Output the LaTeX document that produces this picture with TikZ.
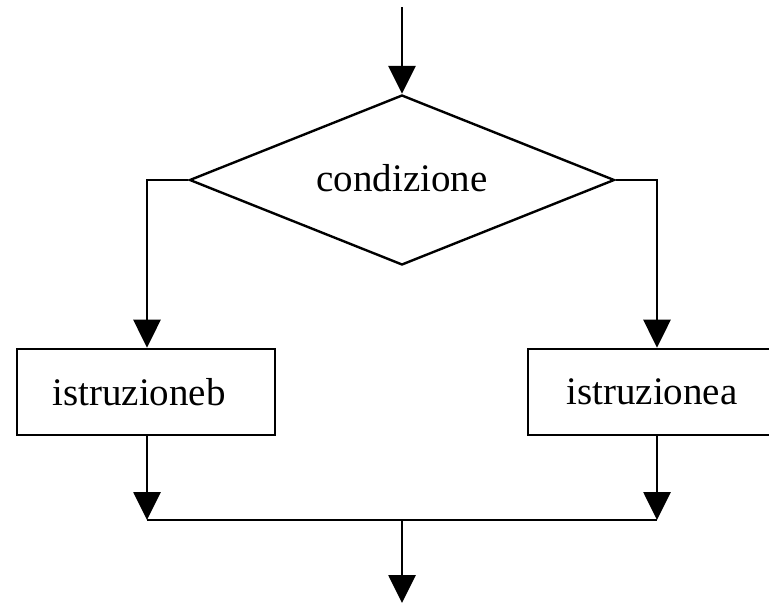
\documentclass[tikz,border=0pt]{standalone}
\usepackage{fontspec}
\setmainfont{Liberation Serif}
\usetikzlibrary{shapes.geometric,arrows.meta}
\begin{document}
\begin{tikzpicture}[x=1pt,y=-1pt,
  flow/.style={line width=2.8pt, draw=black},
  tip/.style={-{Triangle[width=27pt,length=28pt]}},
  label/.style={font=\fontsize{39}{39}\selectfont, inner sep=0pt},
  stmt/.style={draw, line width=2.6pt, minimum width=258pt, minimum height=86pt, label},
  test/.style={diamond, draw, line width=2.4pt, aspect=2.5, minimum width=425pt, minimum height=170pt, inner sep=0pt, font=\fontsize{39}{39}\selectfont}]
  \useasboundingbox (0,0) rectangle (769,605);
  \clip (0,0) rectangle (769,605);

  % decision and the two branches
  \node[test] (cond) at (402,180) {\raisebox{5pt}{condizione}};
  \node[stmt] (b) at (146,392) {\hspace*{-14pt}istruzioneb};
  \node[stmt] (a) at (657,392) {\hspace*{-10pt}istruzionea};

  % entry, join points and exit
  \coordinate (in) at (402,7);
  \coordinate (lc) at (147,180);
  \coordinate (rc) at (657,180);
  \coordinate (lj) at (147,520);
  \coordinate (rj) at (657,520);
  \coordinate (mj) at (402,520);
  \coordinate (out) at (402,603);

  \draw[flow,tip] (in) -- (cond.north);
  \draw[flow,tip] (cond.west) -- (lc) -- (b.north -| lc);
  \draw[flow,tip] (cond.east) -- (rc) -- (a.north -| rc);
  \draw[flow,tip] (b.south -| lj) -- (lj);
  \draw[flow,tip] (a.south -| rj) -- (rj);
  \draw[flow] (lj) -- (rj);
  \draw[flow,tip] (mj) -- (out);
\end{tikzpicture}
\end{document}
